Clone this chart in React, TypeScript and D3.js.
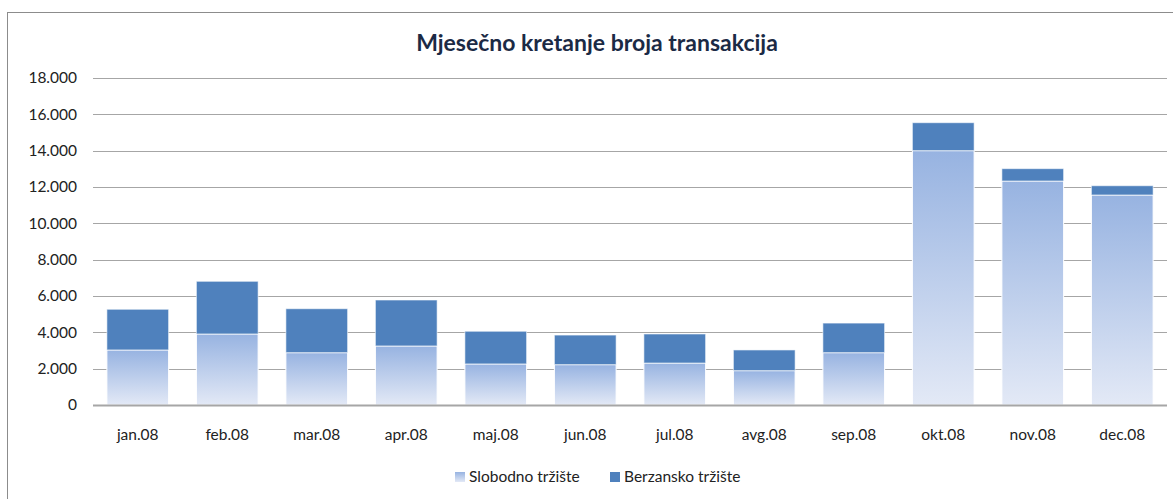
import React, { useEffect, useRef } from 'react';
import * as d3 from 'd3';

const months = ["jan.08", "feb.08", "mar.08", "apr.08", "maj.08", "jun.08", "jul.08", "avg.08", "sep.08", "okt.08", "nov.08", "dec.08"];
const slobodno = [3030, 3910, 2880, 3250, 2260, 2220, 2310, 1890, 2880, 14000, 12330, 11560];
const berzansko = [2240, 2900, 2420, 2530, 1800, 1630, 1600, 1140, 1630, 1540, 680, 510];
const yTicks = [0, 2000, 4000, 6000, 8000, 10000, 12000, 14000, 16000, 18000];
const seriesNames = ["Slobodno tržište", "Berzansko tržište"];

const W = 1173;
const H = 499;
const margin = { top: 78, right: 6, bottom: 94, left: 93 };
const font = "Lato, 'Open Sans', sans-serif";

const fmt = (v: number) => d3.format(",")(v).replace(/,/g, ".");

export default function App() {
	const ref = useRef<SVGSVGElement>(null);

	useEffect(() => {
		const svg = d3.select(ref.current);
		svg.selectAll("*").remove();

		const defs = svg.append("defs");
		const grad = defs.append("linearGradient")
			.attr("id", "slobGrad")
			.attr("x1", 0).attr("x2", 0)
			.attr("y1", 1).attr("y2", 0);
		grad.append("stop").attr("offset", "0%").attr("stop-color", "#e3e9f6");
		grad.append("stop").attr("offset", "100%").attr("stop-color", "#97b3e1");

		// chart area border
		svg.append("rect")
			.attr("x", 7.5).attr("y", 12.5)
			.attr("width", W + 20).attr("height", H + 20)
			.attr("fill", "#fff")
			.attr("stroke", "#8c8c8c")
			.attr("stroke-width", 1);

		svg.append("text")
			.attr("x", 597)
			.attr("y", 51)
			.attr("text-anchor", "middle")
			.style("font-family", font)
			.style("font-weight", "bold")
			.style("font-size", "23px")
			.style("fill", "#1b2a45")
			.text("Mjesečno kretanje broja transakcija");

		const x = d3.scaleBand<string>()
			.domain(months)
			.range([margin.left, W - margin.right])
			.paddingInner(0.31)
			.paddingOuter(0.155);

		const y = d3.scaleLinear()
			.domain([0, 18000])
			.range([H - margin.bottom, margin.top]);

		// gridlines
		svg.append("g")
			.selectAll("line")
			.data(yTicks.slice(1))
			.join("line")
			.attr("x1", margin.left)
			.attr("x2", W - margin.right)
			.attr("y1", d => Math.round(y(d)) + 0.5)
			.attr("y2", d => Math.round(y(d)) + 0.5)
			.attr("stroke", "#a6a6a6")
			.attr("stroke-width", 1);

		// y labels
		svg.append("g")
			.selectAll("text")
			.data(yTicks)
			.join("text")
			.attr("x", 77)
			.attr("y", d => y(d))
			.attr("dy", "0.35em")
			.attr("text-anchor", "end")
			.style("font-family", font)
			.style("font-size", "15.5px")
			.style("fill", "#222")
			.text(d => fmt(d));

		const stacked = months.map((m, i) => ({ m, s: slobodno[i], b: berzansko[i] }));

		const g = svg.append("g");
		g.selectAll(".slob")
			.data(stacked)
			.join("rect")
			.attr("class", "slob")
			.attr("x", d => x(d.m) as number)
			.attr("width", x.bandwidth())
			.attr("y", d => y(d.s))
			.attr("height", d => y(0) - y(d.s))
			.attr("fill", "url(#slobGrad)")
			.attr("stroke", "#ffffff")
			.attr("stroke-width", 1);

		g.selectAll(".berz")
			.data(stacked)
			.join("rect")
			.attr("class", "berz")
			.attr("x", d => x(d.m) as number)
			.attr("width", x.bandwidth())
			.attr("y", d => y(d.s + d.b))
			.attr("height", d => y(d.s) - y(d.s + d.b))
			.attr("fill", "#4f81bd")
			.attr("stroke", "#ffffff")
			.attr("stroke-opacity", 0.6)
			.attr("stroke-width", 1);

		// axis line
		svg.append("line")
			.attr("x1", margin.left)
			.attr("x2", W - margin.right)
			.attr("y1", Math.round(y(0)) + 0.5)
			.attr("y2", Math.round(y(0)) + 0.5)
			.attr("stroke", "#a6a6a6")
			.attr("stroke-width", 2);

		// x labels
		svg.append("g")
			.selectAll("text")
			.data(months)
			.join("text")
			.attr("x", d => (x(d) as number) + x.bandwidth() / 2)
			.attr("y", 440)
			.attr("text-anchor", "middle")
			.style("font-family", font)
			.style("font-size", "15.5px")
			.style("fill", "#222")
			.text(d => d);

		// legend
		const leg = svg.append("g");
		const legX = [455, 610];
		const fills = ["url(#slobGrad)", "#4f81bd"];
		seriesNames.forEach((n, i) => {
			leg.append("rect")
				.attr("x", legX[i]).attr("y", 472)
				.attr("width", 10).attr("height", 10)
				.attr("fill", fills[i]);
			leg.append("text")
				.attr("x", legX[i] + 14)
				.attr("y", 482)
				.style("font-family", font)
				.style("font-size", "15.5px")
				.style("fill", "#222")
				.text(n);
		});
	}, []);

	return (
		<svg ref={ref} width={W} height={H} style={{ position: "absolute", left: 0, top: 0 }} />
	);
}
